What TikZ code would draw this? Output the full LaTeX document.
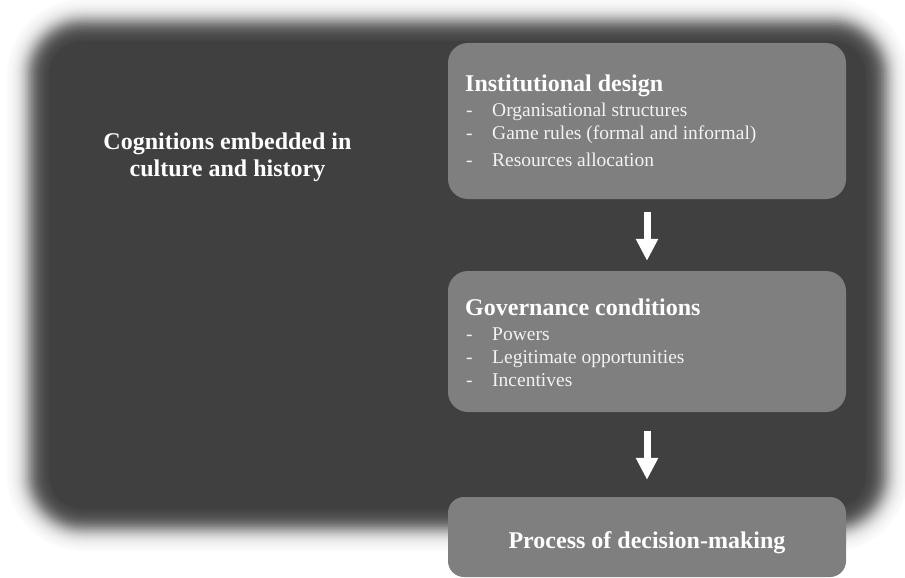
\documentclass[tikz,border=0pt]{standalone}
\usepackage{fontspec}
\setmainfont{Liberation Serif}
\usetikzlibrary{arrows.meta}
\definecolor{darkbg}{HTML}{404040}
\definecolor{boxgrey}{HTML}{7F7F7F}
\definecolor{itemtext}{HTML}{F2F2F2}
\tikzset{
  greybox/.style={fill=boxgrey, rounded corners=20pt, minimum width=398pt, inner sep=0pt},
  titletext/.style={text=white, font=\fontsize{24}{28}\selectfont\bfseries, inner sep=0pt, anchor=base west},
  itemtext/.style={text=itemtext, font=\fontsize{19.5}{23}\selectfont, inner sep=0pt, anchor=base west},
  blockarrow/.style={draw=white, line width=7pt, -{Triangle[width=21pt,length=22pt]}, fill=white},
}
\begin{document}
\begin{tikzpicture}[x=1pt,y=-1pt]
\useasboundingbox (0,0) rectangle (905,578);
% blurred dark background
\foreach \k in {0,...,28}{
  \pgfmathsetmacro\dd{-21+1.5*\k}
  \pgfmathsetmacro\cc{1/(1+exp(-1.702*\dd/9.5))}
  \pgfmathsetmacro\cp{(\k==0)?0:1/(1+exp(-1.702*(\dd-1.5)/9.5))}
  \pgfmathsetmacro\op{1-(1-\cc)/(1-\cp)}
  \pgfmathsetmacro\rr{max(55-\dd,4)}
  \fill[darkbg, fill opacity=\op, rounded corners=\rr pt] (28+\dd,20+\dd) rectangle (887-\dd,530-\dd);
}
\fill[darkbg, rounded corners=34pt] (49,41) rectangle (866,509);

% boxes
\node[greybox, minimum height=156pt] (b1) at (647,121) {};
\node[greybox, minimum height=141pt] (b2) at (647,341.5) {};
\node[greybox, minimum height=80pt, rounded corners=16pt] (b3) at (647,537) {};

% left text
\node[text=white, font=\fontsize{24}{28}\selectfont\bfseries, inner sep=0pt, anchor=base] (c1) at (227.5,149) {Cognitions embedded in};
\node[text=white, font=\fontsize{24}{28}\selectfont\bfseries, inner sep=0pt, anchor=base] (c2) at (227.5,176.7) {culture and history};

% box 1 text
\node[titletext] (t1) at (465,91.7) {Institutional design};
\node[itemtext] (d11) at (466,116) {-};
\node[itemtext] (i11) at (492,116) {Organisational structures};
\node[itemtext] (d12) at (466,139) {-};
\node[itemtext] (i12) at (492,139) {Game rules (formal and informal)};
\node[itemtext] (d13) at (466,166.7) {-};
\node[itemtext] (i13) at (492,166.7) {Resources allocation};

% box 2 text
\node[titletext] (t2) at (465,315.7) {Governance conditions};
\node[itemtext] (d21) at (466,340) {-};
\node[itemtext] (i21) at (492,340) {Powers};
\node[itemtext] (d22) at (466,363.3) {-};
\node[itemtext] (i22) at (492,363.3) {Legitimate opportunities};
\node[itemtext] (d23) at (466,386.7) {-};
\node[itemtext] (i23) at (492,386.7) {Incentives};

% box 3 text
\node[text=white, font=\fontsize{24}{28}\selectfont\bfseries, inner sep=0pt, anchor=base] (t3) at (647,548) {Process of decision-making};

% arrows
\draw[blockarrow, shorten <=13pt, shorten >=10pt] (b1.south) -- (b2.north);
\draw[blockarrow, shorten <=18.5pt, shorten >=17pt] (b2.south) -- (b3.north);
\end{tikzpicture}
\end{document}
